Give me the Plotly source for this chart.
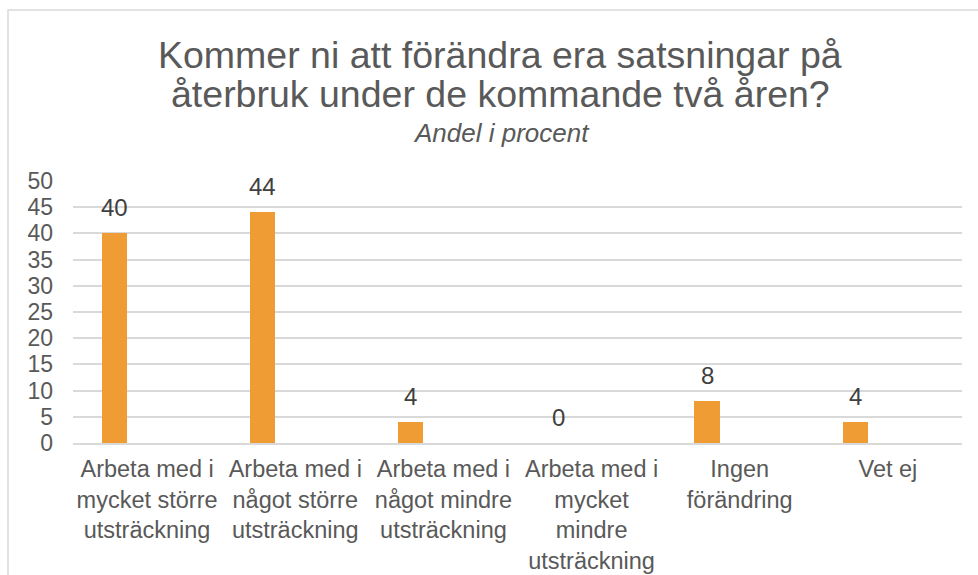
import plotly.graph_objects as go

categories = ["Arbeta med i mycket större utsträckning",
              "Arbeta med i något större utsträckning",
              "Arbeta med i något mindre utsträckning",
              "Arbeta med i mycket mindre utsträckning",
              "Ingen förändring",
              "Vet ej"]
tick_labels = ["Arbeta med i<br>mycket större<br>utsträckning",
               "Arbeta med i<br>något större<br>utsträckning",
               "Arbeta med i<br>något mindre<br>utsträckning",
               "Arbeta med i<br>mycket<br>mindre<br>utsträckning",
               "Ingen<br>förändring",
               "Vet ej"]
values = [40, 44, 4, 0, 8, 4]
y_ticks = [0, 5, 10, 15, 20, 25, 30, 35, 40, 45, 50]

title_line1 = "Kommer ni att förändra era satsningar på"
title_line2 = "återbruk under de kommande två åren?"
subtitle = "Andel i procent"

FONT = "Liberation Sans, Arial, sans-serif"
W, H = 978, 575
L, R, T, B = 73, 16, 181, 132
pw, ph = W - L - R, H - T - B

def px_x(p):
    return (p - L) / pw

def px_y(q):
    return (H - B - q) / ph

bar_width = 0.171
bar_offset = -0.306
bar_center_shift = (bar_offset + bar_width / 2) * pw / len(categories)

fig = go.Figure()
fig.add_trace(go.Bar(
    x=categories, y=values,
    width=bar_width, offset=bar_offset,
    marker=dict(color="#EF9C34", line=dict(width=0)),
    hoverinfo="x+y", showlegend=False,
))

annotations = []
for c, v in zip(categories, values):
    annotations.append(dict(
        x=c, y=v, xref="x", yref="y", text=str(v), showarrow=False,
        xshift=bar_center_shift, yshift=10, yanchor="bottom", xanchor="center",
        font=dict(family=FONT, size=24, color="#404040"),
    ))

annotations += [
    dict(x=px_x(500), y=px_y(55), xref="paper", yref="paper", text=title_line1,
         showarrow=False, xanchor="center", yanchor="middle",
         font=dict(family=FONT, size=37.5, color="#595959")),
    dict(x=px_x(500), y=px_y(94), xref="paper", yref="paper", text=title_line2,
         showarrow=False, xanchor="center", yanchor="middle",
         font=dict(family=FONT, size=37.5, color="#595959")),
    dict(x=px_x(501), y=px_y(133), xref="paper", yref="paper", text="<i>" + subtitle + "</i>",
         showarrow=False, xanchor="center", yanchor="middle",
         font=dict(family=FONT, size=26, color="#595959")),
]

fig.update_layout(
    width=W, height=H,
    margin=dict(l=L, r=R, t=T, b=B, pad=0, autoexpand=False),
    paper_bgcolor="white", plot_bgcolor="white",
    font=dict(family=FONT, color="#595959"),
    annotations=annotations,
    shapes=[dict(type="rect", xref="paper", yref="paper",
                 x0=px_x(8), x1=px_x(1000), y0=px_y(600), y1=px_y(10),
                 line=dict(color="#D9D9D9", width=1.5), fillcolor="rgba(0,0,0,0)",
                 layer="below")],
    xaxis=dict(
        type="category", categoryorder="array", categoryarray=categories,
        tickmode="array", tickvals=categories, ticktext=tick_labels,
        tickfont=dict(family=FONT, size=23.5, color="#595959"),
        showgrid=False, zeroline=False, showline=True, linecolor="#D9D9D9", linewidth=1.5,
        ticks="", ticklabelstandoff=4, range=[-0.5, 5.5], automargin=False,
    ),
    yaxis=dict(
        range=[0, 50], tickmode="array", tickvals=y_ticks,
        tickfont=dict(family=FONT, size=23, color="#595959"),
        showgrid=True, gridcolor="#D9D9D9", gridwidth=1.5,
        zeroline=False, showline=False, ticks="", ticklabelstandoff=19, automargin=False,
    ),
    bargap=0,
)

fig.write_html("out.html")
